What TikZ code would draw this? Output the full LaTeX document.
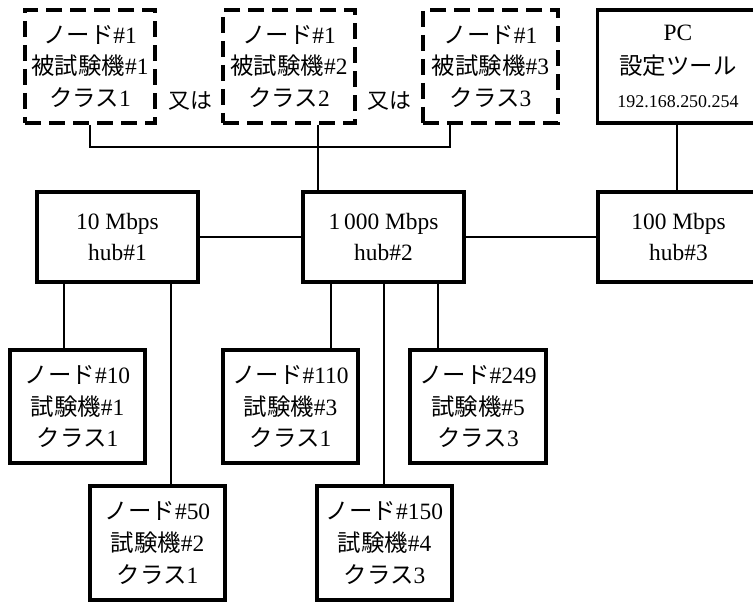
\documentclass[tikz,border=0pt]{standalone}
\usepackage{fontspec}
\setmainfont{Liberation Serif}
\newfontfamily\jp{Noto Sans CJK JP}
\begin{document}
\begin{tikzpicture}[x=1bp,y=-1bp,
  box/.style={draw,line width=3.5bp,inner sep=0pt,align=center,font=\fontsize{23.5}{32}\selectfont},
  dbox/.style={box,line width=4bp,dash pattern=on 16bp off 8bp},
  wire/.style={line width=1.5bp}]
\useasboundingbox (0,0) rectangle (753,602);
% dashed devices under test
\node[dbox,minimum width=130bp,minimum height=113bp] (d1) at (90,66.5) {{\jp ノード}\#1\\{\jp 被試験機}\#1\\{\jp クラス}1};
\node[dbox,minimum width=132bp,minimum height=113bp] (d2) at (289,66.5) {{\jp ノード}\#1\\{\jp 被試験機}\#2\\{\jp クラス}2};
\node[dbox,minimum width=135bp,minimum height=113bp] (d3) at (490.5,66.5) {{\jp ノード}\#1\\{\jp 被試験機}\#3\\{\jp クラス}3};
\node[font=\fontsize{22}{26}\selectfont\jp] (or1) at (190,101) {又は};
\node[font=\fontsize{22}{26}\selectfont\jp] (or2) at (389,101) {又は};
% PC
\node[box,minimum width=161bp,minimum height=113bp,font=\fontsize{23.5}{34}\selectfont] (pc) at (678,66.5) {PC\\{\jp 設定ツール}\\{\fontsize{18}{34}\selectfont 192.168.250.254}};
% hubs
\node[box,minimum width=161bp,minimum height=90bp] (h1) at (117.5,237) {10 Mbps\\hub\#1};
\node[box,minimum width=161bp,minimum height=90bp] (h2) at (383.5,237) {1\,000 Mbps\\hub\#2};
\node[box,minimum width=161bp,minimum height=90bp] (h3) at (678.5,237) {100 Mbps\\hub\#3};
% testers
\node[box,minimum width=135bp,minimum height=113bp] (n10) at (77.5,406.5) {{\jp ノード}\#10\\{\jp 試験機}\#1\\{\jp クラス}1};
\node[box,minimum width=135bp,minimum height=113bp] (n110) at (290.5,406.5) {{\jp ノード}\#110\\{\jp 試験機}\#3\\{\jp クラス}1};
\node[box,minimum width=136bp,minimum height=113bp] (n249) at (478,406.5) {{\jp ノード}\#249\\{\jp 試験機}\#5\\{\jp クラス}3};
\node[box,minimum width=135bp,minimum height=114bp] (n50) at (157.5,543) {{\jp ノード}\#50\\{\jp 試験機}\#2\\{\jp クラス}1};
\node[box,minimum width=135bp,minimum height=114bp] (n150) at (384.5,543) {{\jp ノード}\#150\\{\jp 試験機}\#4\\{\jp クラス}3};
% helper x positions
\coordinate (bus) at (450,147);
\coordinate (x2) at (318,0);
\coordinate (xp) at (677,0);
\coordinate (xa) at (64,0);
\coordinate (xb) at (171,0);
\coordinate (xc) at (331,0);
\coordinate (xd) at (384,0);
\coordinate (xe) at (438,0);
% connectors
\draw[wire] (d1.south) |- (bus) -- (bus |- d3.south);
\draw[wire] (x2 |- d2.south) -- (x2 |- h2.north);
\draw[wire] (xp |- pc.south) -- (xp |- h3.north);
\draw[wire] (h1.east) -- (h2.west);
\draw[wire] (h2.east) -- (h3.west);
\draw[wire] (xa |- h1.south) -- (xa |- n10.north);
\draw[wire] (xb |- h1.south) -- (xb |- n50.north);
\draw[wire] (xc |- h2.south) -- (xc |- n110.north);
\draw[wire] (xd |- h2.south) -- (xd |- n150.north);
\draw[wire] (xe |- h2.south) -- (xe |- n249.north);
\end{tikzpicture}
\end{document}
